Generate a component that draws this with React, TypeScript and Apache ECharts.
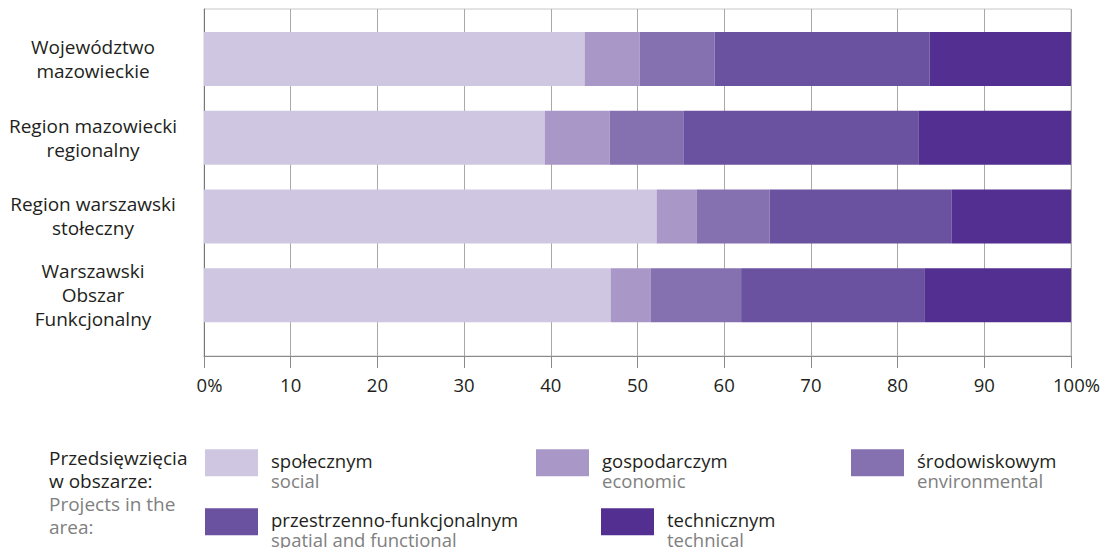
import React, { useEffect, useRef } from 'react';
import * as echarts from 'echarts';

const FONT = '"Open Sans", "DejaVu Sans", sans-serif';

const categories = [
  'Województwo\nmazowieckie',
  'Region mazowiecki\nregionalny',
  'Region warszawski\nstołeczny',
  'Warszawski\nObszar\nFunkcjonalny',
];

const seriesNamesPl = ['społecznym', 'gospodarczym', 'środowiskowym', 'przestrzenno-funkcjonalnym', 'technicznym'];
const seriesNamesEn = ['social', 'economic', 'environmental', 'spatial and functional', 'technical'];
const seriesColors = ['#cfc7e2', '#a897c7', '#8671b0', '#6b52a0', '#522f91'];

const social = [43.9, 39.3, 52.2, 46.9];
const economic = [6.35, 7.5, 4.6, 4.65];
const environmental = [8.65, 8.55, 8.45, 10.4];
const spatial = [24.8, 27.1, 21.0, 21.2];
const technical = [16.3, 17.55, 13.75, 16.85];

const seriesValues = [social, economic, environmental, spatial, technical];

const legendTitlePl = ['Przedsięwzięcia', 'w obszarze:'];
const legendTitleEn = ['Projects in the', 'area:'];

export default function App() {
  const ref = useRef<HTMLDivElement>(null);

  useEffect(() => {
    document.body.style.margin = '0';
    const chart = echarts.init(ref.current!, null, { renderer: 'svg' });

    const legendPos = [
      [205, 449.3],
      [536, 449.3],
      [851, 449.3],
      [205, 508.3],
      [601, 508.3],
    ];

    const option: any = {
      animation: false,
      textStyle: { fontFamily: FONT },
      grid: [
        {
          left: 204,
          right: 41,
          top: 9,
          bottom: 192,
          show: true,
          borderColor: '#c8c8c8',
          borderWidth: 1,
          backgroundColor: 'transparent',
        },
        {
          left: 204,
          right: 41,
          top: 19.6,
          height: 315,
        },
      ],
      xAxis: [
        {
          gridIndex: 0,
          type: 'value',
          min: 0,
          max: 100,
          interval: 10,
          axisLine: { show: true, lineStyle: { color: '#8a8a8a', width: 1 } },
          axisTick: { show: true, length: 12, lineStyle: { color: '#8a8a8a' } },
          splitLine: { show: true, lineStyle: { color: '#a8a8a8', width: 1 } },
          axisLabel: {
            margin: 19,
            fontSize: 18.5,
            fontFamily: FONT,
            color: '#231f20',
            formatter: (v: number) => (v === 0 ? '{p|0%}' : v === 100 ? '{p|100%}' : String(v)),
            rich: {
              p: { fontSize: 18.5, fontFamily: FONT, color: '#231f20', padding: [0, 0, 0, 11] },
            },
          },
        },
        {
          gridIndex: 1,
          type: 'value',
          min: 0,
          max: 100,
          show: false,
        },
      ],
      yAxis: [
        {
          gridIndex: 0,
          type: 'value',
          min: 0,
          max: 1,
          axisLine: { show: true, lineStyle: { color: '#777777', width: 1 } },
          axisTick: { show: false },
          axisLabel: { show: false },
          splitLine: { show: false },
        },
        {
          gridIndex: 1,
          type: 'category',
          data: categories,
          inverse: true,
          axisLine: { show: false },
          axisTick: { show: false },
          splitLine: { show: false },
          axisLabel: {
            align: 'center',
            margin: 111,
            fontSize: 19,
            lineHeight: 24,
            fontFamily: FONT,
            color: '#231f20',
          },
        },
      ],
      legend: seriesNamesPl.map((name, i) => ({
        left: legendPos[i][0],
        top: legendPos[i][1],
        padding: 0,
        data: [name],
        icon: 'rect',
        itemWidth: 53,
        itemHeight: 27,
        selectedMode: false,
        formatter: (n: string) => `{a|${n}}\n{b|${seriesNamesEn[seriesNamesPl.indexOf(n)]}}`,
        textStyle: {
          fontFamily: FONT,
          fontSize: 18.5,
          padding: [15, 0, 0, 8],
          rich: {
            a: { fontSize: 18.5, fontFamily: FONT, color: '#231f20', lineHeight: 20 },
            b: { fontSize: 18.5, fontFamily: FONT, color: '#808080', lineHeight: 20 },
          },
        },
      })),
      graphic: [
        {
          type: 'text',
          left: 49,
          top: 448,
          style: {
            text: legendTitlePl.map((t) => `{a|${t}}`).concat(legendTitleEn.map((t) => `{b|${t}}`)).join('\n'),
            rich: {
              a: { fill: '#231f20', fontSize: 19, fontFamily: FONT, lineHeight: 23 },
              b: { fill: '#808080', fontSize: 19, fontFamily: FONT, lineHeight: 23 },
            },
          },
        },
      ],
      series: seriesNamesPl.map((name, i) => ({
        name,
        type: 'bar',
        stack: 'total',
        xAxisIndex: 1,
        yAxisIndex: 1,
        barWidth: 54,
        data: seriesValues[i],
        itemStyle: { color: seriesColors[i] },
        emphasis: { disabled: true },
      })),
    };

    chart.setOption(option);
    return () => chart.dispose();
  }, []);

  return <div ref={ref} style={{ width: 1112, height: 548 }} />;
}
